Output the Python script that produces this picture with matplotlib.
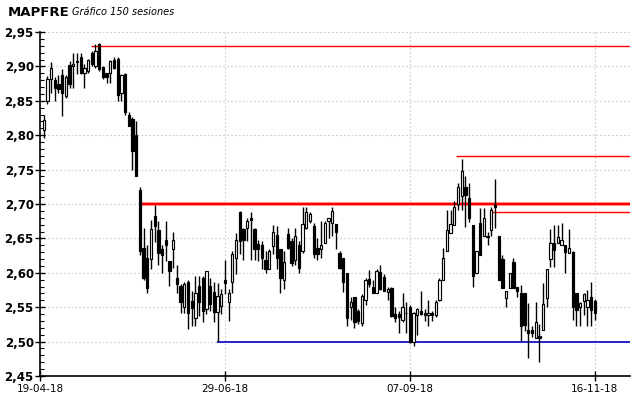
import numpy as np
import matplotlib
matplotlib.use("Agg")
import matplotlib.pyplot as plt
from matplotlib.ticker import MultipleLocator, FuncFormatter

# velas diarias MAPFRE (apertura, maximo, minimo, cierre), 150 sesiones
apertura = [2.807, 2.849, 2.882, 2.880, 2.874, 2.888, 2.857, 2.902, 2.900, 2.906,
            2.914, 2.890, 2.893, 2.919, 2.901, 2.932, 2.899, 2.890, 2.891, 2.910,
            2.911, 2.861, 2.889, 2.830, 2.823, 2.800, 2.720, 2.636, 2.622, 2.620,
            2.683, 2.662, 2.635, 2.647, 2.617, 2.635, 2.592, 2.581, 2.551, 2.586,
            2.559, 2.535, 2.581, 2.593, 2.548, 2.581, 2.572, 2.543, 2.552, 2.589,
            2.558, 2.586, 2.621, 2.689, 2.663, 2.665, 2.680, 2.663, 2.642, 2.641,
            2.619, 2.606, 2.639, 2.655, 2.634, 2.590, 2.656, 2.646, 2.619, 2.641,
            2.631, 2.665, 2.675, 2.668, 2.636, 2.635, 2.643, 2.676, 2.673, 2.671,
            2.629, 2.622, 2.600, 2.550, 2.565, 2.545, 2.527, 2.560, 2.591, 2.580,
            2.570, 2.601, 2.594, 2.572, 2.578, 2.540, 2.540, 2.531, 2.542, 2.551,
            2.499, 2.539, 2.545, 2.541, 2.538, 2.541, 2.539, 2.560, 2.590, 2.631,
            2.658, 2.670, 2.700, 2.711, 2.725, 2.708, 2.670, 2.600, 2.672, 2.653,
            2.653, 2.662, 2.699, 2.653, 2.620, 2.563, 2.578, 2.616, 2.580, 2.570,
            2.570, 2.517, 2.517, 2.505, 2.508, 2.517, 2.563, 2.620, 2.643, 2.643,
            2.641, 2.641, 2.629, 2.630, 2.570, 2.551, 2.559, 2.551, 2.565, 2.559]
maximo = [2.829, 2.886, 2.906, 2.884, 2.888, 2.896, 2.887, 2.908, 2.920, 2.920,
          2.920, 2.903, 2.911, 2.923, 2.932, 2.934, 2.900, 2.891, 2.909, 2.913,
          2.913, 2.889, 2.890, 2.833, 2.826, 2.820, 2.725, 2.665, 2.641, 2.677,
          2.698, 2.675, 2.641, 2.675, 2.617, 2.660, 2.612, 2.583, 2.586, 2.590,
          2.573, 2.595, 2.595, 2.595, 2.602, 2.593, 2.586, 2.585, 2.576, 2.619,
          2.576, 2.631, 2.658, 2.690, 2.665, 2.679, 2.689, 2.665, 2.648, 2.646,
          2.631, 2.634, 2.670, 2.668, 2.634, 2.631, 2.665, 2.651, 2.665, 2.646,
          2.695, 2.695, 2.689, 2.672, 2.651, 2.675, 2.675, 2.680, 2.695, 2.671,
          2.631, 2.622, 2.600, 2.565, 2.565, 2.548, 2.569, 2.593, 2.604, 2.590,
          2.605, 2.611, 2.598, 2.580, 2.580, 2.551, 2.544, 2.570, 2.557, 2.553,
          2.543, 2.549, 2.573, 2.548, 2.560, 2.545, 2.560, 2.593, 2.636, 2.691,
          2.691, 2.704, 2.730, 2.766, 2.740, 2.730, 2.670, 2.631, 2.694, 2.694,
          2.660, 2.696, 2.736, 2.653, 2.626, 2.573, 2.599, 2.621, 2.580, 2.582,
          2.570, 2.556, 2.523, 2.558, 2.526, 2.585, 2.605, 2.663, 2.669, 2.669,
          2.672, 2.641, 2.663, 2.632, 2.570, 2.558, 2.570, 2.575, 2.587, 2.562]
minimo = [2.796, 2.845, 2.862, 2.850, 2.861, 2.828, 2.854, 2.868, 2.868, 2.889,
          2.889, 2.869, 2.891, 2.901, 2.898, 2.893, 2.881, 2.876, 2.876, 2.896,
          2.850, 2.850, 2.830, 2.813, 2.750, 2.740, 2.626, 2.590, 2.571, 2.605,
          2.645, 2.612, 2.600, 2.617, 2.581, 2.607, 2.571, 2.542, 2.542, 2.518,
          2.523, 2.523, 2.537, 2.528, 2.540, 2.545, 2.528, 2.499, 2.540, 2.569,
          2.530, 2.570, 2.598, 2.627, 2.619, 2.646, 2.619, 2.619, 2.617, 2.605,
          2.600, 2.605, 2.627, 2.605, 2.571, 2.576, 2.634, 2.610, 2.612, 2.600,
          2.629, 2.664, 2.672, 2.622, 2.619, 2.622, 2.643, 2.651, 2.653, 2.634,
          2.605, 2.572, 2.522, 2.531, 2.520, 2.525, 2.522, 2.553, 2.580, 2.570,
          2.570, 2.575, 2.573, 2.561, 2.536, 2.529, 2.513, 2.529, 2.512, 2.498,
          2.493, 2.510, 2.538, 2.530, 2.522, 2.530, 2.536, 2.559, 2.590, 2.631,
          2.658, 2.670, 2.691, 2.691, 2.667, 2.674, 2.580, 2.600, 2.626, 2.653,
          2.641, 2.653, 2.665, 2.589, 2.578, 2.550, 2.578, 2.578, 2.565, 2.501,
          2.516, 2.476, 2.506, 2.505, 2.471, 2.517, 2.551, 2.609, 2.609, 2.643,
          2.641, 2.600, 2.629, 2.531, 2.522, 2.523, 2.539, 2.522, 2.522, 2.532]
cierre = [2.822, 2.881, 2.897, 2.868, 2.867, 2.861, 2.884, 2.875, 2.903, 2.907,
          2.891, 2.897, 2.909, 2.903, 2.922, 2.896, 2.884, 2.885, 2.908, 2.898,
          2.858, 2.888, 2.833, 2.814, 2.777, 2.740, 2.631, 2.593, 2.578, 2.663,
          2.668, 2.629, 2.626, 2.640, 2.602, 2.647, 2.584, 2.557, 2.583, 2.542,
          2.549, 2.571, 2.557, 2.545, 2.602, 2.554, 2.543, 2.566, 2.569, 2.585,
          2.570, 2.627, 2.648, 2.646, 2.648, 2.676, 2.677, 2.634, 2.635, 2.622,
          2.606, 2.631, 2.659, 2.622, 2.593, 2.615, 2.636, 2.614, 2.653, 2.607,
          2.671, 2.689, 2.686, 2.627, 2.628, 2.640, 2.672, 2.679, 2.690, 2.660,
          2.607, 2.587, 2.534, 2.558, 2.529, 2.530, 2.566, 2.590, 2.584, 2.571,
          2.603, 2.577, 2.574, 2.577, 2.537, 2.535, 2.536, 2.550, 2.541, 2.500,
          2.541, 2.548, 2.540, 2.538, 2.541, 2.539, 2.557, 2.590, 2.621, 2.662,
          2.671, 2.695, 2.724, 2.748, 2.713, 2.679, 2.595, 2.631, 2.626, 2.679,
          2.652, 2.691, 2.695, 2.589, 2.578, 2.573, 2.599, 2.578, 2.573, 2.523,
          2.524, 2.512, 2.513, 2.529, 2.505, 2.554, 2.605, 2.643, 2.633, 2.652,
          2.648, 2.630, 2.636, 2.550, 2.546, 2.556, 2.569, 2.561, 2.546, 2.541]

fechas_pos = [-1, 49, 99, 149]
fechas = ["19-04-18", "29-06-18", "07-09-18", "16-11-18"]

# lineas de soporte / resistencia: (nivel, sesion inicial, color, grosor)
lineas = [(2.930, 12.8, "#ff0000", 1.0),
          (2.700, 26.3, "#ff0000", 1.6),
          (2.770, 111.5, "#ff0000", 1.0),
          (2.689, 121.3, "#ff0000", 1.0),
          (2.500, 46.8, "#0000c8", 1.2)]

o = np.array(apertura)
h = np.array(maximo)
l = np.array(minimo)
c = np.array(cierre)
x = np.arange(len(o))

fig = plt.figure(figsize=(6.4, 3.98), dpi=100)
ax = fig.add_axes([40/640, 1-376/398, 590/640, 344/398])
ax.set_xlim(-1, 158.5)
ax.set_ylim(2.45, 2.95)

# rejilla
for yv in np.arange(2.50, 2.951, 0.05):
    ax.axhline(yv, color="#cccccc", lw=0.8, ls=(0, (1.5, 2)), zorder=0)
for xv in fechas_pos[1:]:
    ax.axvline(xv, color="#cccccc", lw=0.8, ls=(0, (1.5, 2)), zorder=0)

for nivel, x0, col, lw in lineas:
    if lw > 1.5:
        ax.hlines(nivel, x0, 158.5, color="#ff9a9a", lw=lw + 1.2, zorder=2)
    ax.hlines(nivel, x0, 158.5, color=col, lw=lw, zorder=2)

# velas
ax.vlines(x, l, h, color="black", lw=1.0, zorder=3)
sube = c >= o
base = np.minimum(o, c)
alto = np.maximum(np.abs(c - o), 0.0012)
ax.bar(x[sube], alto[sube], 0.62, bottom=base[sube], facecolor="white",
       edgecolor="black", linewidth=0.85, zorder=4)
ax.bar(x[~sube], alto[~sube], 0.62, bottom=base[~sube], facecolor="black",
       edgecolor="black", linewidth=0.85, zorder=4)

ax.spines["top"].set_visible(False)
ax.spines["right"].set_visible(False)
ax.spines["left"].set_linewidth(1.2)
ax.spines["bottom"].set_linewidth(1.2)

ax.yaxis.set_major_locator(MultipleLocator(0.05))
ax.yaxis.set_minor_locator(MultipleLocator(0.01))
ax.yaxis.set_major_formatter(FuncFormatter(lambda v, p: f"{v:.2f}".replace(".", ",")))
ax.tick_params(axis="y", which="major", direction="inout", length=7, width=1,
               labelsize=8.5, pad=1)
ax.tick_params(axis="y", which="minor", direction="in", length=3, width=0.8)
for t in ax.get_yticklabels():
    t.set_fontweight("bold")

ax.set_xticks(fechas_pos)
ax.set_xticklabels(fechas)
ax.tick_params(axis="x", direction="inout", length=7, width=1, labelsize=7.5, pad=2)

fig.text(8/640, 1-12/398, "MAPFRE", fontsize=9.5, fontweight="bold", va="center")
fig.text(72/640, 1-12/398, "Gráfico 150 sesiones", fontsize=7, style="italic", va="center")

fig.savefig("out.png", dpi=100)
